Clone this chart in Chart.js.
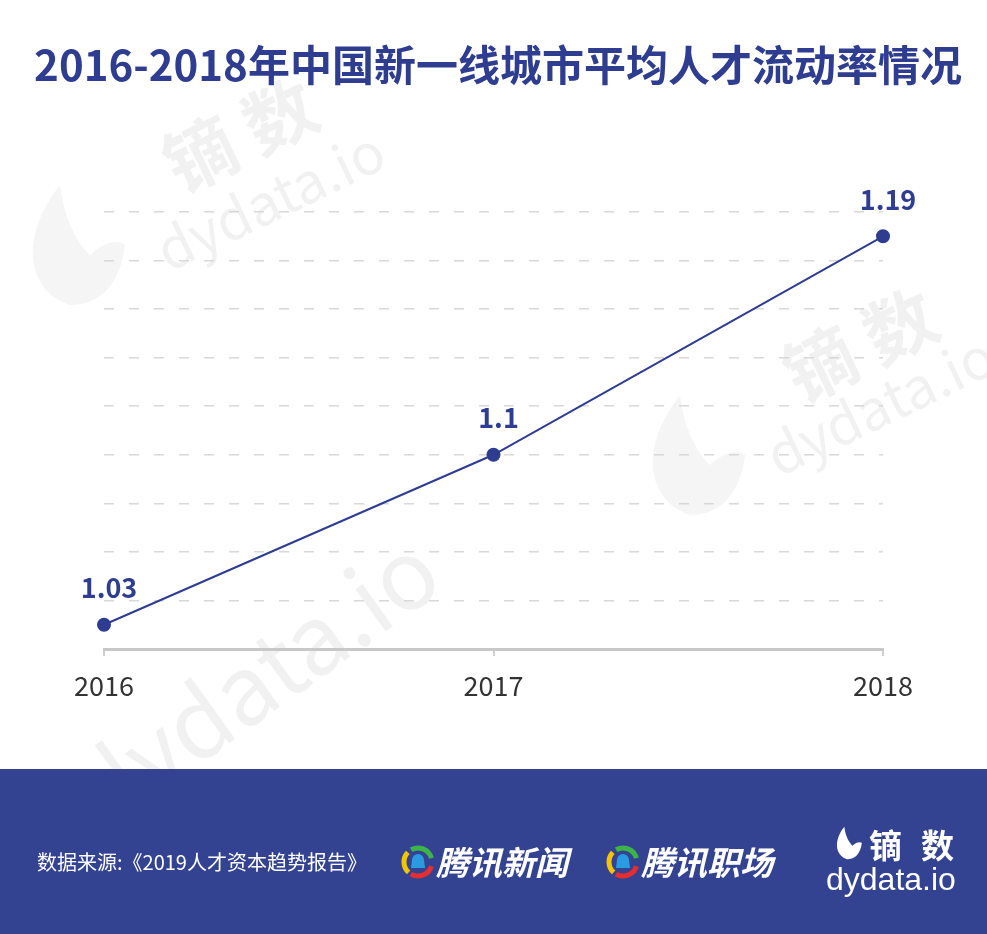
<!DOCTYPE html>
<html><head><meta charset="utf-8">
<script src="https://cdn.jsdelivr.net/npm/chart.js@4/dist/chart.umd.min.js"></script>
<style>html,body{margin:0;padding:0;background:#fff}#wrap{width:987px;height:934px;position:relative}</style>
</head><body><div id="wrap"><canvas id="c" width="987" height="934"></canvas></div>
<script>
const categories = ['2016', '2017', '2018'];
const rateValues = [1.03, 1.1, 1.19];
const valueLabels = ['1.03', '1.1', '1.19'];
const titleText = '2016-2018年中国新一线城市平均人才流动率情况';
const sourceText = '数据来源:《2019人才资本趋势报告》';
const logoA = '腾讯新闻';
const logoB = '腾讯职场';

const BLUE = '#2e3d90';
const FONT = '"Noto Sans CJK SC","Noto Sans",sans-serif';

function leaf(ctx, x, y, s, rot, color) {
  ctx.save(); ctx.translate(x, y); ctx.rotate(rot); ctx.scale(s, s);
  ctx.fillStyle = color;
  ctx.beginPath();
  ctx.moveTo(0, 60);
  ctx.bezierCurveTo(-45, 45, -50, -10, -10, -60);
  ctx.bezierCurveTo(-5, -20, 10, 0, 20, 10);
  ctx.bezierCurveTo(35, -5, 50, -5, 55, 0);
  ctx.bezierCurveTo(50, 40, 30, 60, 0, 60);
  ctx.fill();
  ctx.restore();
}

const decor = {
  id: 'decor',
  beforeDraw(chart) {
    const ctx = chart.ctx;
    ctx.save();
    ctx.fillStyle = '#fff'; ctx.fillRect(0, 0, 987, 934);
    const wm = 'rgba(0,0,0,0.055)';
    leaf(ctx, 70, 245, 1.0, 0, 'rgba(0,0,0,0.04)');
    leaf(ctx, 690, 455, 1.0, 0, 'rgba(0,0,0,0.04)');
    ctx.fillStyle = wm;
    ctx.textAlign = 'center'; ctx.textBaseline = 'middle';
    const marks = [[240, 135, '镝 数', 'bold 72px ' + FONT], [270, 200, 'dydata.io', '56px ' + FONT],
                   [860, 345, '镝 数', 'bold 72px ' + FONT], [880, 405, 'dydata.io', '56px ' + FONT]];
    marks.forEach(m => { ctx.save(); ctx.translate(m[0], m[1]); ctx.rotate(-0.45); ctx.font = m[3]; ctx.fillText(m[2], 0, 0); ctx.restore(); });
    ctx.save(); ctx.translate(255, 680); ctx.rotate(-0.62); ctx.font = '96px ' + FONT; ctx.fillText('dydata.io', 0, 0); ctx.restore();
    ctx.fillStyle = '#344391';
    ctx.fillRect(0, 769, 987, 165);
    // title
    ctx.fillStyle = BLUE;
    ctx.font = 'bold 42px ' + FONT;
    ctx.textAlign = 'center'; ctx.textBaseline = 'middle';
    ctx.fillText(titleText, 498, 65);
    ctx.restore();
  },
  afterDraw(chart) {
    const ctx = chart.ctx;
    ctx.save();
    ctx.textBaseline = 'middle';
    ctx.fillStyle = '#fff';
    ctx.textAlign = 'left';
    ctx.font = '20px ' + FONT;
    ctx.fillText(sourceText, 37, 862);
    const drawIcon = (cx, cy) => {
      const cols = ['#f2c500', '#3bb54a', '#e52e2e'];
      const arcs = [[2.3, 3.9], [4.2, 6.0], [0.3, 2.1]];
      ctx.lineWidth = 5;
      for (let i = 0; i < 3; i++) { ctx.strokeStyle = cols[i]; ctx.beginPath(); ctx.arc(cx, cy, 14, arcs[i][0], arcs[i][1]); ctx.stroke(); }
      ctx.fillStyle = '#2a9be0'; ctx.beginPath(); ctx.arc(cx, cy - 2, 6, Math.PI, 0); ctx.lineTo(cx + 7, cy + 6); ctx.lineTo(cx - 7, cy + 6); ctx.fill();
    };
    drawIcon(418, 862); drawIcon(623, 862);
    ctx.fillStyle = '#fff';
    ctx.font = 'italic bold 33px ' + FONT;
    ctx.fillText(logoA, 436, 862);
    ctx.fillText(logoB, 641, 862);
    leaf(ctx, 847, 843, 0.27, 0, '#fff');
    ctx.font = 'bold 33px ' + FONT;
    ctx.fillText('镝', 869, 845);
    ctx.fillText('数', 921, 845);
    ctx.font = '32px "Liberation Sans",Arial,sans-serif';
    ctx.fillText('dydata.io', 826, 881);
    ctx.restore();
  }
};

const valueLabelPlugin = {
  id: 'valueLabels',
  afterDatasetsDraw(chart) {
    const ctx = chart.ctx;
    const meta = chart.getDatasetMeta(0);
    ctx.save();
    ctx.fillStyle = BLUE;
    ctx.font = 'bold 27px ' + FONT;
    ctx.textAlign = 'center'; ctx.textBaseline = 'middle';
    meta.data.forEach((pt, i) => ctx.fillText(valueLabels[i], pt.x + 5, pt.y - 37));
    ctx.restore();
  }
};

new Chart(document.getElementById('c'), {
  type: 'line',
  data: {
    labels: categories,
    datasets: [{
      data: rateValues,
      borderColor: BLUE, backgroundColor: BLUE,
      borderWidth: 2, pointRadius: 6, pointHoverRadius: 6,
      tension: 0, clip: false
    }]
  },
  plugins: [decor, valueLabelPlugin],
  options: {
    responsive: false, animation: false,
    layout: { padding: { left: 104, right: 104, top: 212, bottom: 0 } },
    plugins: {
      legend: { display: false }, tooltip: { enabled: false }, title: { display: false }
    },
    scales: {
      x: {
        offset: false,
        afterFit(s) { s.height = 285; },
        grid: { drawOnChartArea: false, drawTicks: true, tickLength: 7, color: '#d0d0d0', lineWidth: 2 },
        border: { display: true, color: '#c8c8c8', width: 3 },
        ticks: { color: '#333', font: { family: FONT, size: 27 }, padding: 14 }
      },
      y: {
        min: 1.02, max: 1.20,
        afterFit(s) { s.width = 0; },
        ticks: { display: false, stepSize: 0.02 },
        border: { display: false, dash: [10, 15] },
        grid: { color: '#d8d8d8', lineWidth: 1.5, drawTicks: false }
      }
    }
  }
});
</script></body></html>
